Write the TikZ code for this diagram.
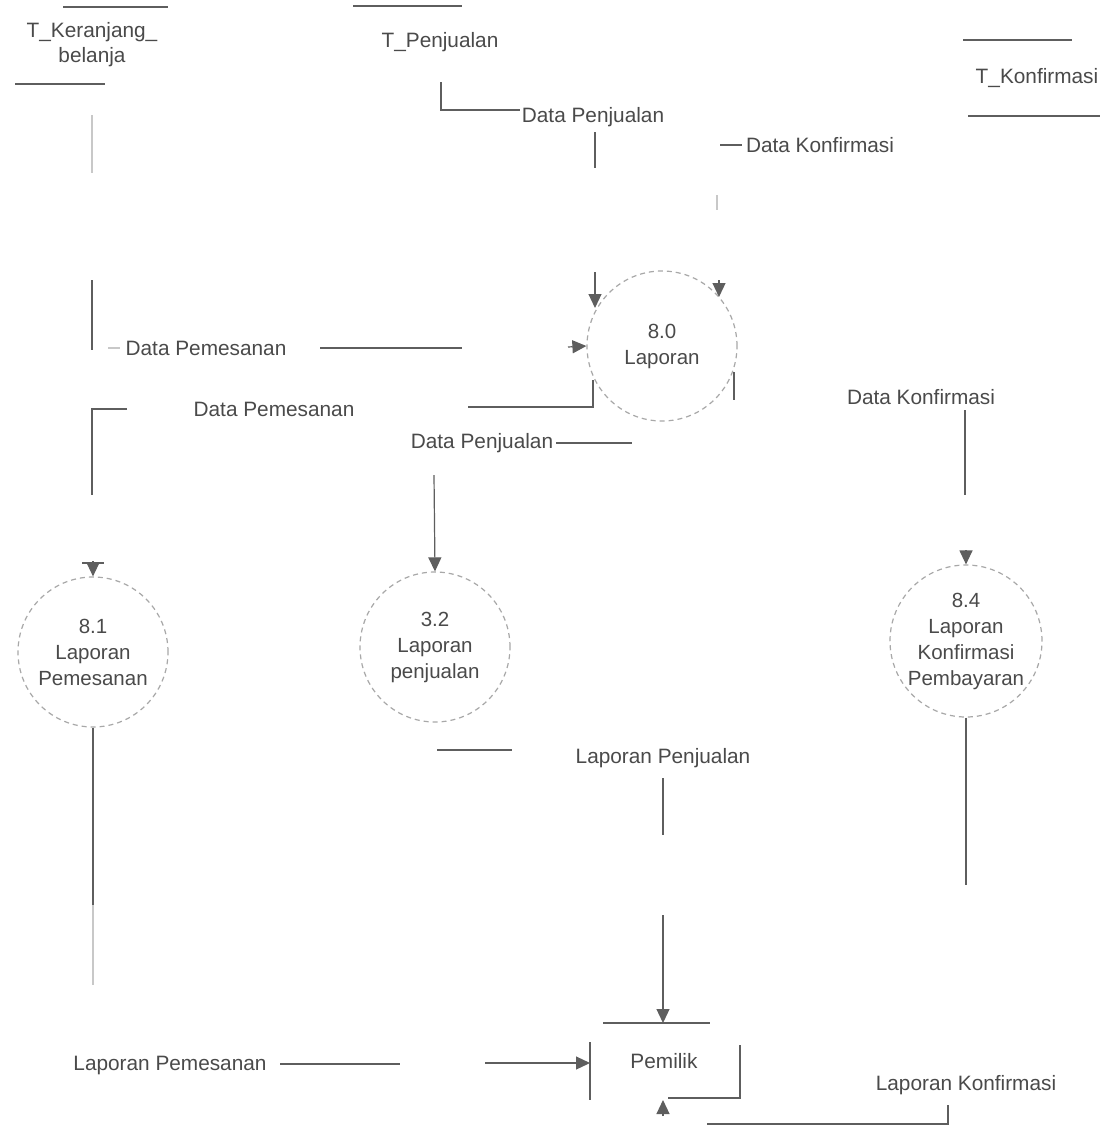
\documentclass[tikz,border=0pt]{standalone}
\usepackage{fontspec}
\setmainfont{Liberation Sans}
\usetikzlibrary{arrows.meta}
\definecolor{ink}{HTML}{4A4A4A}
\definecolor{wire}{HTML}{5E5E5E}
\definecolor{rim}{HTML}{A8A8A8}
\definecolor{faint}{HTML}{C8C8C8}
\begin{document}
\begin{tikzpicture}[x=1bp,y=-1bp,
  lbl/.style={text=ink,font=\fontsize{20.8bp}{25bp}\selectfont,inner sep=0pt,align=center},
  proc/.style={circle,draw=rim,dash pattern=on 5bp off 4bp,line width=1.2bp,
    minimum size=150bp,inner sep=0pt,text=ink,
    font=\fontsize{20.5bp}{26bp}\selectfont,align=center},
  flow/.style={draw=wire,line width=1.2bp},
  weak/.style={draw=faint,line width=1.2bp},
  tip/.style={flow,-{Triangle[length=14bp,width=13bp]},wire}
]
\path[use as bounding box,fill=white] (0,0) rectangle (1100,1126);

% ---------------- data stores ----------------
\node[lbl] (keranjang) at (92,45) {T\_Keranjang\_\\belanja};
\coordinate (k1a) at (63,7);   \coordinate (k1b) at (168,7);
\coordinate (k2a) at (15,84);  \coordinate (k2b) at (105,84);
\draw[flow] (k1a) -- (k1b);
\draw[flow] (k2a) -- (k2b);

\node[lbl] (penjualan) at (440,42) {T\_Penjualan};
\coordinate (pj1a) at (353,6); \coordinate (pj1b) at (462,6);
\draw[flow] (pj1a) -- (pj1b);

\node[lbl] (konfirmasi) at (1037,78) {T\_Konfirmasi};
\coordinate (kf1a) at (963,40);  \coordinate (kf1b) at (1072,40);
\coordinate (kf2a) at (968,116); \coordinate (kf2b) at (1100,116);
\draw[flow] (kf1a) -- (kf1b);
\draw[flow] (kf2a) -- (kf2b);

% ---------------- processes ----------------
\node[proc] (p80) at (662,346) {8.0\\Laporan};
\node[proc] (p81) at (93,652) {8.1\\Laporan\\Pemesanan};
\node[proc] (p82) at (435,647) {3.2\\Laporan\\penjualan};
\node[proc,minimum size=152bp] (p84) at (966,641) {8.4\\Laporan\\Konfirmasi\\Pembayaran};

% ---------------- external entity ----------------
\node[lbl] (pemilik) at (664,1061) {Pemilik};
\coordinate (pmTa) at (603,1023); \coordinate (pmTb) at (710,1023);
\coordinate (pmLa) at (590,1042); \coordinate (pmLb) at (590,1100);
\coordinate (pmRa) at (740,1045); \coordinate (pmRb) at (740,1098);
\coordinate (pmBa) at (668,1098);
\draw[flow] (pmTa) -- (pmTb);
\draw[flow] (pmLa) -- (pmLb);
\draw[flow] (pmBa) -- (pmRb) -- (pmRa);

% ---------------- flow labels ----------------
\node[lbl] (fPenj1) at (593,117) {Data Penjualan};
\node[lbl] (fKonf1) at (820,145) {Data Konfirmasi};
\node[lbl] (fPem1)  at (206,348) {Data Pemesanan};
\node[lbl] (fPem2)  at (274,409) {Data Pemesanan};
\node[lbl] (fPenj2) at (482,443) {Data Penjualan};
\node[lbl] (fKonf2) at (921,397) {Data Konfirmasi};
\node[lbl] (fLPenj) at (663,758) {Laporan Penjualan};
\node[lbl] (fLPem)  at (170,1065) {Laporan Pemesanan};
\node[lbl] (fLKonf) at (966,1085) {Laporan Konfirmasi};

% ---------------- T_Keranjang_belanja -> 8.0 ----------------
\coordinate (a1) at (92,115);  \coordinate (a2) at (92,173);
\coordinate (a3) at (92,280);  \coordinate (a4) at (92,350);
\coordinate (a5) at (108,348); \coordinate (a6) at (120,348);
\coordinate (a7) at (320,348); \coordinate (a8) at (462,348);
\coordinate (a9) at (568,347);
\draw[weak] (a1) -- (a2);
\draw[flow] (a3) -- (a4);
\draw[weak] (a5) -- (a6);
\draw[flow] (a7) -- (a8);
\draw[tip] (a9) -- (p80.west);

% ---------------- T_Penjualan -> 8.0 ----------------
\coordinate (b1) at (441,82);  \coordinate (b2) at (441,110);
\coordinate (b3) at (520,110);
\coordinate (b4) at (595,132); \coordinate (b5) at (595,168);
\coordinate (b6) at (595,272); \coordinate (b7) at (595,308);
\draw[flow] (b1) -- (b2) -- (b3);
\draw[flow] (b4) -- (b5);
\draw[tip] (b6) -- (b7);

% ---------------- T_Konfirmasi -> 8.0 ----------------
\coordinate (c1) at (720,145); \coordinate (c2) at (742,145);
\coordinate (c3) at (717,195); \coordinate (c4) at (717,210);
\coordinate (c5) at (719,280); \coordinate (c6) at (719,297);
\draw[flow] (c1) -- (c2);
\draw[weak] (c3) -- (c4);
\draw[tip] (c5) -- (c6);

% ---------------- 8.0 -> 8.1 ----------------
\coordinate (d1) at (593,380); \coordinate (d2) at (593,407);
\coordinate (d3) at (468,407);
\coordinate (d4) at (127,409); \coordinate (d5) at (92,409);
\coordinate (d6) at (92,495);
\coordinate (d7) at (93,561);
\draw[flow] (d1) -- (d2) -- (d3);
\draw[flow] (d4) -- (d5) -- (d6);
\draw[flow] (82,563) -- (104,563);
\draw[tip] (d7) -- (p81.north);

% ---------------- 8.0 -> 8.2 ----------------
\coordinate (e1) at (556,443); \coordinate (e2) at (632,443);
\coordinate (e3) at (434,475);
\draw[flow] (e1) -- (e2);
\draw[tip] (e3) -- (p82.north);

% ---------------- 8.0 -> 8.4 ----------------
\coordinate (f1) at (734,372); \coordinate (f2) at (734,400);
\coordinate (f3) at (965,410); \coordinate (f4) at (965,495);
\coordinate (f5) at (966,550);
\draw[flow] (f1) -- (f2);
\draw[flow] (f3) -- (f4);
\draw[tip] (f5) -- (p84.north);

% ---------------- 8.1 -> Pemilik ----------------
\coordinate (g1) at (93,905);
\coordinate (g2) at (280,1064); \coordinate (g3) at (400,1064);
\coordinate (g4) at (485,1063);
\draw[flow] (p81.south) -- (g1);
\draw[weak] (93,905) -- (93,985);
\draw[flow] (g2) -- (g3);
\draw[tip] (g4) -- (pmLa |- g4);

% ---------------- 8.2 -> Pemilik ----------------
\coordinate (h1) at (437,750); \coordinate (h2) at (512,750);
\coordinate (h3) at (663,778); \coordinate (h4) at (663,835);
\coordinate (h5) at (663,915);
\draw[flow] (h1) -- (h2);
\draw[flow] (h3) -- (h4);
\draw[tip] (h5) -- (pmTa -| h5);

% ---------------- 8.4 -> Pemilik ----------------
\coordinate (i1) at (966,885);
\coordinate (i2) at (948,1105); \coordinate (i3) at (948,1124);
\coordinate (i4) at (707,1124);
\coordinate (i5) at (663,1116); \coordinate (i6) at (663,1100);
\draw[flow] (p84.south) -- (i1);
\draw[flow] (i2) -- (i3) -- (i4);
\draw[tip] (i5) -- (i6);
\end{tikzpicture}
\end{document}
